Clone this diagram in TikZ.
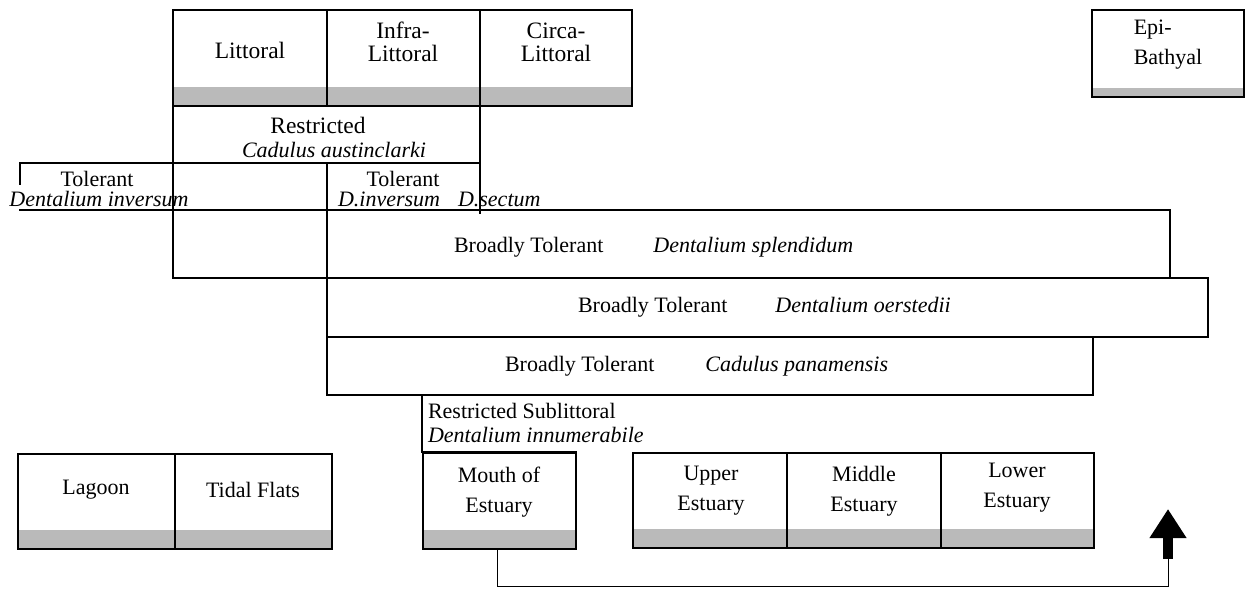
\documentclass[tikz,border=0pt]{standalone}
\usepackage{fontspec}
\setmainfont{Liberation Serif}
\usetikzlibrary{arrows.meta}
\begin{document}
\begin{tikzpicture}[x=1pt,y=-1pt,
  every node/.style={inner sep=0pt, outer sep=0pt},
  lab/.style={font=\fontsize{22}{24}\selectfont, align=center},
  head/.style={font=\fontsize{23.5}{23}\selectfont, align=center},
  tall/.style={font=\fontsize{22}{30}\selectfont, align=center},
  rule/.style={line width=1.2pt, line cap=rect},
  zone/.style={draw, line width=1.2pt, anchor=north west, minimum height=96pt,
    path picture={\fill[black!27]
      ([yshift=19pt]path picture bounding box.south west) rectangle
      (path picture bounding box.south east);}},
  link/.style={line width=1pt},
]
\useasboundingbox (0,0) rectangle (1249,589);

% ---------- depth zones along the top ----------
\node[zone, minimum width=154pt] (litt)  at (173,10) {};
\node[zone, minimum width=153pt] (infra) at (327,10) {};
\node[zone, minimum width=152pt] (circa) at (480,10) {};
\node[zone, minimum width=152pt, minimum height=87pt,
  path picture={\fill[black!27]
      ([yshift=9pt]path picture bounding box.south west) rectangle
      (path picture bounding box.south east);}] (epi) at (1092,10) {};

\node[head] (tlitt)  at (250,50) {Littoral};
\node[head] (tinfra) at (403,42) {Infra-\\Littoral};
\node[head] (tcirca) at (556,42) {Circa-\\Littoral};
\node[tall, align=left] (tepi) at (1168,45) {Epi-\\Bathyal};

% ---------- tolerance bands ----------
% Restricted: Cadulus austinclarki
\draw[rule] (173,106) -- (173,278);
\draw[rule] (480,106) -- (480,213);
\draw[rule] (20,163) -- (480,163);
\node[head] (restr)   at (318,125) {Restricted};
\node[lab]  (restrsp) at (334,150) {\textit{Cadulus austinclarki}};

% Tolerant: Dentalium inversum
\draw[rule] (20,163) -- (20,184);
\draw[rule] (20,210) -- (1170,210);
\node[lab] (tol1)   at (97,179) {Tolerant};
\node[lab] (tol1sp) at (99,199) {\textit{Dentalium inversum}};

% Tolerant: D. inversum, D. sectum
\draw[rule] (327,163) -- (327,395);
\node[lab] (tol2) at (403,179) {Tolerant};
\node[lab, anchor=west] (tol2sp) at (338,199)
  {\textit{D.inversum}\hspace{18pt}\textit{D.sectum}};

% Broadly Tolerant: Dentalium splendidum
\draw[rule] (1170,210) -- (1170,278);
\draw[rule] (173,278) -- (1208,278);
\node[lab, anchor=west] (splend) at (454,247)
  {Broadly Tolerant\hspace{50pt}\textit{Dentalium splendidum}};

% Broadly Tolerant: Dentalium oerstedii
\draw[rule] (1208,278) -- (1208,337);
\draw[rule] (327,337) -- (1208,337);
\node[lab, anchor=west] (oerst) at (578,307)
  {Broadly Tolerant\hspace{48pt}\textit{Dentalium oerstedii}};

% Broadly Tolerant: Cadulus panamensis
\draw[rule] (1093,337) -- (1093,395);
\draw[rule] (327,395) -- (1093,395);
\node[lab, anchor=west] (panam) at (505,366)
  {Broadly Tolerant\hspace{51pt}\textit{Cadulus panamensis}};

% Restricted Sublittoral: Dentalium innumerabile
\draw[rule] (422,395) -- (422,452) -- (576,452);
\node[lab, anchor=west] (sub1) at (428,411) {Restricted Sublittoral};
\node[lab, anchor=west] (sub2) at (428,435) {\textit{Dentalium innumerabile}};

% ---------- coastal and estuarine zones ----------
\node[zone, minimum width=157pt, minimum height=95pt] (lagoon) at (18,454) {};
\node[zone, minimum width=157pt, minimum height=95pt] (tidal)  at (175,454) {};
\node[zone, minimum width=153pt, minimum height=96pt] (mouth)  at (423,453) {};
\node[zone, minimum width=154pt, minimum height=95pt] (upper)  at (633,453) {};
\node[zone, minimum width=154pt, minimum height=95pt] (middle) at (787,453) {};
\node[zone, minimum width=153pt, minimum height=95pt] (lower)  at (941,453) {};

\node[lab]  (tlagoon) at (96,490)  {Lagoon};
\node[lab]  (ttidal)  at (253,490) {Tidal Flats};
\node[tall] (tmouth)  at (499,492) {Mouth of\\Estuary};
\node[tall] (tupper)  at (711,491) {Upper\\Estuary};
\node[tall] (tmiddle) at (864,491) {Middle\\Estuary};
\node[tall] (tlower)  at (1017,488) {Lower\\Estuary};

% ---------- seaward arrow ----------
\coordinate (corner) at (1168,586);
\coordinate (shaft)  at (1168,559);
\coordinate (tip)    at (1168,509);
\draw[link] (mouth.south -| 497,0) -- (497,586) -- (corner) -- (shaft);
\draw[line width=10pt, -{Triangle[width=35pt,length=29pt]}] (shaft) -- (tip);
\end{tikzpicture}
\end{document}
